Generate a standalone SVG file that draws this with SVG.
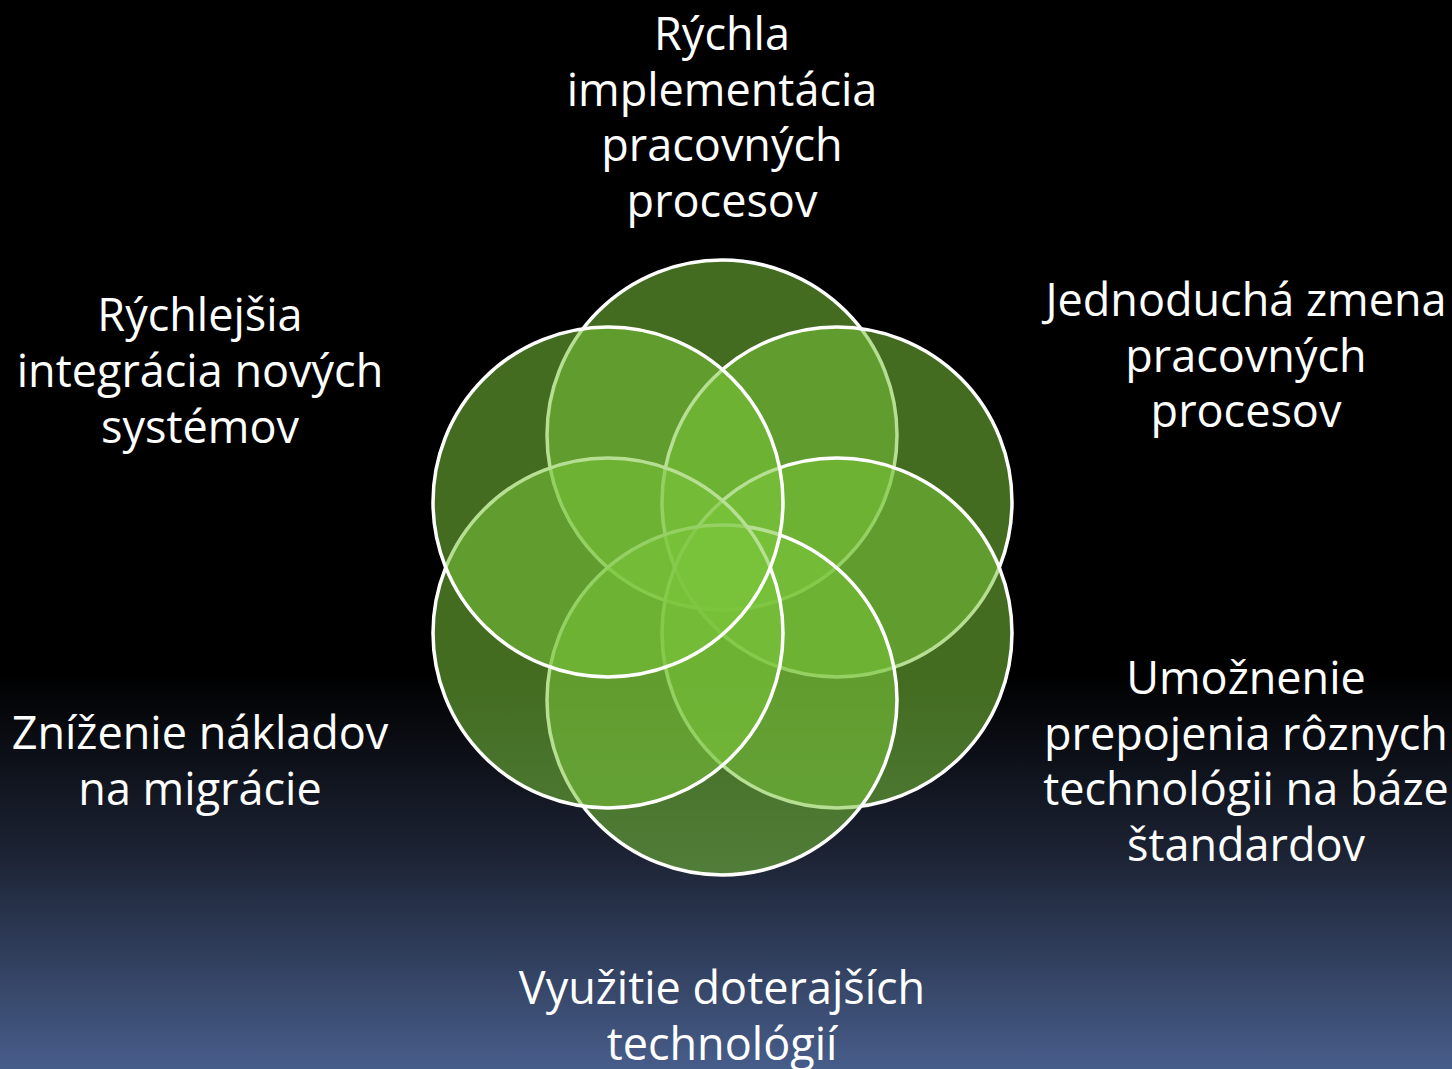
<svg xmlns="http://www.w3.org/2000/svg" width="1452" height="1069" viewBox="0 0 1452 1069">
<defs>
<linearGradient id="bg" x1="0" y1="0" x2="0" y2="1">
<stop offset="0" stop-color="#000000"/>
<stop offset="0.63" stop-color="#000000"/>
<stop offset="0.8" stop-color="#1c2334"/>
<stop offset="1" stop-color="#475d8a"/>
</linearGradient>
</defs>
<style>
.c{fill:#7ac43a;fill-opacity:0.55;stroke:#ffffff;stroke-width:3.5}
.t{font-family:"Open Sans","Noto Sans",sans-serif;font-size:45px;fill:#ffffff;text-anchor:middle}
</style>
<rect x="0" y="0" width="1452" height="1069" fill="url(#bg)"/>
<g id="circles">
<circle id="c-top" class="c" cx="722" cy="435" r="175"/>
<circle id="c-ur" class="c" cx="837" cy="502" r="175"/>
<circle id="c-lr" class="c" cx="837" cy="633" r="175"/>
<circle id="c-bottom" class="c" cx="722" cy="700" r="175"/>
<circle id="c-ll" class="c" cx="608" cy="633" r="175"/>
<circle id="c-ul" class="c" cx="608" cy="502" r="175"/>
</g>
<g id="label-top">
<text class="t" x="722" y="50">Rýchla</text>
<text class="t" x="722" y="106">implementácia</text>
<text class="t" x="722" y="161">pracovných</text>
<text class="t" x="722" y="217">procesov</text>
</g>
<g id="label-ur">
<text class="t" x="1246" y="316">Jednoduchá zmena</text>
<text class="t" x="1246" y="372">pracovných</text>
<text class="t" x="1246" y="427">procesov</text>
</g>
<g id="label-lr">
<text class="t" x="1246" y="694">Umožnenie</text>
<text class="t" x="1246" y="750">prepojenia rôznych</text>
<text class="t" x="1246" y="805">technológii na báze</text>
<text class="t" x="1246" y="861">štandardov</text>
</g>
<g id="label-bottom">
<text class="t" x="722" y="1004">Využitie doterajších</text>
<text class="t" x="722" y="1060">technológií</text>
</g>
<g id="label-ll">
<text class="t" x="200" y="749">Zníženie nákladov</text>
<text class="t" x="200" y="805">na migrácie</text>
</g>
<g id="label-ul">
<text class="t" x="200" y="331">Rýchlejšia</text>
<text class="t" x="200" y="387">integrácia nových</text>
<text class="t" x="200" y="443">systémov</text>
</g>
</svg>
